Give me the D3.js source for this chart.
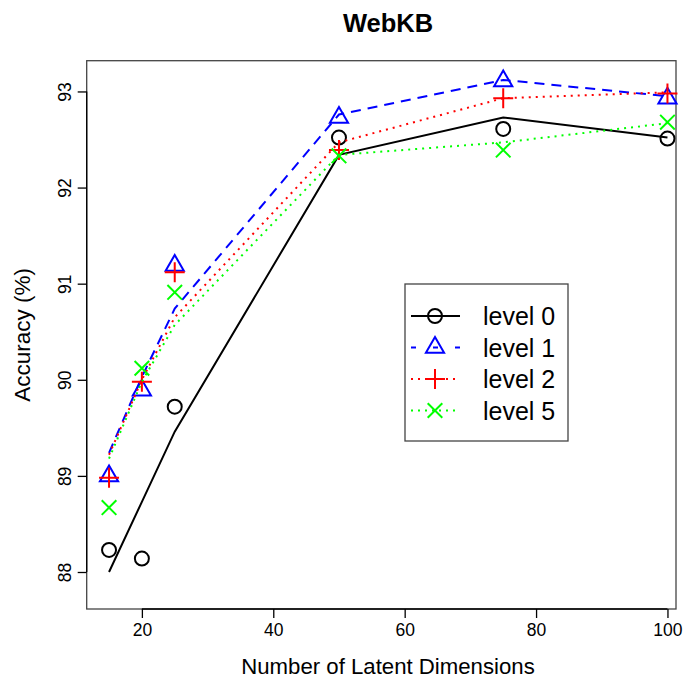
<!DOCTYPE html>
<html lang="en">
  <head>
    <meta charset="UTF-8" />
    <title>WebKB</title>
    <style>
      body {
        margin: 0;
        background: #fff;
        font-family: "Liberation Sans", Arial, Helvetica, sans-serif;
      }
      svg text {
        fill: #000;
      }
    </style>
  </head>
  <body>
    <div id="chart"></div>
    <script src="https://d3js.org/d3.v7.min.js"></script>
    <script>
      // latent dimensions on the x axis
      const dims = [15, 20, 25, 50, 75, 100];

      // plotted symbols
      const level0Pts = [88.23, 88.14, 89.72, 92.52, 92.61, 92.51];
      const level1Pts = [89.0, 89.89, 91.19, 92.73, 93.11, 92.93];
      const level2Pts = [88.98, 89.98, 91.12, 92.39, 92.93, 92.98];
      const level5Pts = [88.67, 90.12, 90.91, 92.33, 92.39, 92.68];

      // plotted lines (not the same values as the symbols)
      const level0Line = [88.0, 88.73, 89.46, 92.34, 92.73, 92.52];
      const level1Line = [89.24, 90.03, 90.74, 92.76, 93.12, 92.95];
      const level2Line = [89.22, 90.0, 90.65, 92.47, 92.93, 92.99];
      const level5Line = [89.18, 89.98, 90.57, 92.34, 92.47, 92.67];

      const seriesNames = ["level 0", "level 1", "level 2", "level 5"];
      const xTicks = [20, 40, 60, 80, 100];
      const yTicks = [88, 89, 90, 91, 92, 93];

      const width = 691;
      const height = 685;

      const series = [
        { name: seriesNames[0], pts: level0Pts, line: level0Line, color: "#000000", dash: null, legDash: null, shape: "circle" },
        { name: seriesNames[1], pts: level1Pts, line: level1Line, color: "#0000ff", dash: "10,7", legDash: "5,17", shape: "triangle" },
        { name: seriesNames[2], pts: level2Pts, line: level2Line, color: "#ff0000", dash: "2,5", legDash: "2,5", shape: "plus" },
        { name: seriesNames[3], pts: level5Pts, line: level5Line, color: "#00ff00", dash: "2,5", legDash: "2,5", shape: "cross" },
      ];

      const svg = d3
        .select("#chart")
        .append("svg")
        .attr("width", width)
        .attr("height", height);

      const x = d3.scaleLinear().domain([11.6, 101.3]).range([86.7, 676]);
      const y = d3.scaleLinear().domain([87.615, 93.32]).range([609, 60.7]);

      // box
      svg
        .append("rect")
        .attr("x", x.range()[0])
        .attr("y", y.range()[1])
        .attr("width", x.range()[1] - x.range()[0])
        .attr("height", y.range()[0] - y.range()[1])
        .attr("fill", "none")
        .attr("stroke", "#444")
        .attr("stroke-width", 1.3);

      // x axis
      const xAxis = svg
        .append("g")
        .attr("transform", `translate(0,${y.range()[0]})`)
        .call(d3.axisBottom(x).tickValues(xTicks).tickSize(9).tickPadding(6));
      xAxis.select(".domain").attr("d", `M${x(20)},0H${x(100)}`).attr("stroke-width", 1.3);
      xAxis.selectAll(".tick line").attr("stroke-width", 1.3);
      xAxis
        .selectAll(".tick text")
        .attr("font-size", 17.5)
        .attr("font-family", "Liberation Sans, Arial, sans-serif");

      // y axis
      const yAxis = svg
        .append("g")
        .attr("transform", `translate(${x.range()[0]},0)`)
        .call(d3.axisLeft(y).tickValues(yTicks).tickSize(9).tickFormat(d3.format("d")));
      yAxis.select(".domain").attr("d", `M0,${y(88)}V${y(93)}`).attr("stroke-width", 1.3);
      yAxis.selectAll(".tick line").attr("stroke-width", 1.3);
      yAxis
        .selectAll(".tick text")
        .attr("font-size", 17.5)
        .attr("font-family", "Liberation Sans, Arial, sans-serif")
        .attr("x", null)
        .attr("dy", null)
        .attr("text-anchor", "middle")
        .attr("transform", "translate(-16,0) rotate(-90)");

      // titles
      svg
        .append("text")
        .attr("x", 388)
        .attr("y", 32)
        .attr("text-anchor", "middle")
        .attr("font-size", 25.5)
        .attr("font-weight", "bold")
        .text("WebKB");

      svg
        .append("text")
        .attr("x", 388)
        .attr("y", 674)
        .attr("text-anchor", "middle")
        .attr("font-size", 22.2)
        .text("Number of Latent Dimensions");

      svg
        .append("text")
        .attr("transform", `translate(30,${(y.range()[0] + y.range()[1]) / 2}) rotate(-90)`)
        .attr("text-anchor", "middle")
        .attr("font-size", 22.5)
        .text("Accuracy (%)");

      function drawSymbol(g, shape, cx, cy, color) {
        const s = g.append("g").attr("stroke", color).attr("stroke-width", 2).attr("fill", "none");
        if (shape === "circle") {
          s.append("circle").attr("cx", cx).attr("cy", cy).attr("r", 7);
        } else if (shape === "triangle") {
          const r = 10.5;
          const xc = r * 0.866;
          s.append("path").attr("d", `M${cx},${cy - r}L${cx + xc},${cy + r / 2}L${cx - xc},${cy + r / 2}Z`);
        } else if (shape === "plus") {
          const h = 10;
          s.append("path").attr("d", `M${cx - h},${cy}H${cx + h}M${cx},${cy - h}V${cy + h}`);
        } else {
          const h = 7.3;
          s.append("path").attr("d", `M${cx - h},${cy - h}L${cx + h},${cy + h}M${cx - h},${cy + h}L${cx + h},${cy - h}`);
        }
      }

      const line = d3
        .line()
        .x((d) => x(d[0]))
        .y((d) => y(d[1]));

      series.forEach((s) => {
        svg
          .append("path")
          .datum(dims.map((d, i) => [d, s.line[i]]))
          .attr("d", line)
          .attr("fill", "none")
          .attr("stroke", s.color)
          .attr("stroke-width", 2)
          .attr("stroke-dasharray", s.dash);
        const g = svg.append("g");
        dims.forEach((d, i) => drawSymbol(g, s.shape, x(d), y(s.pts[i]), s.color));
      });

      // legend
      const legend = svg.append("g");
      legend
        .append("rect")
        .attr("x", 405)
        .attr("y", 284)
        .attr("width", 163)
        .attr("height", 157)
        .attr("fill", "#fff")
        .attr("stroke", "#444")
        .attr("stroke-width", 1.3);

      series.forEach((s, i) => {
        const ly = 316 + i * 31.5;
        legend
          .append("line")
          .attr("x1", 411)
          .attr("x2", 460)
          .attr("y1", ly)
          .attr("y2", ly)
          .attr("stroke", s.color)
          .attr("stroke-width", 2)
          .attr("stroke-dasharray", s.legDash);
        drawSymbol(legend, s.shape, 435, ly, s.color);
        legend
          .append("text")
          .attr("x", 483)
          .attr("y", ly)
          .attr("dy", "0.36em")
          .attr("font-size", 25)
          .text(s.name);
      });
    </script>
  </body>
</html>
